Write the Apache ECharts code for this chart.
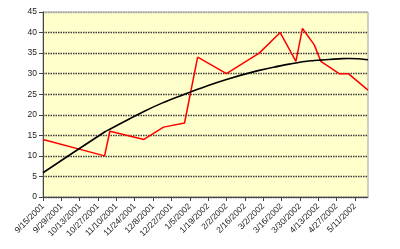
<!DOCTYPE html>
<html><head><meta charset="utf-8">
<script src="https://cdn.jsdelivr.net/npm/echarts@6/dist/echarts.min.js"></script>
<style>html,body{margin:0;padding:0;background:#fff}#c{width:400px;height:249px}</style>
</head><body><div id="c"></div>
<script>
// Data
const dates = ['9/15/2001','11/1/2001','11/5/2001','12/1/2001','12/16/2001','1/1/2002','1/11/2002','2/2/2002','2/27/2002','3/15/2002','3/27/2002','4/1/2002','4/10/2002','4/15/2002','4/29/2002','5/6/2002','5/21/2002'];
const values = [14,10,16,14,17,18,34,30,35,40,33,41,37,33,30,30,26];
const trend  = [5.9,15.8,16.5,20.8,23.0,25.0,26.2,28.6,30.8,31.9,32.6,32.9,33.2,33.3,33.6,33.7,33.4];
const yTicks = [0,5,10,15,20,25,30,35,40,45];
const axisStart = '9/15/2001';
const axisEnd = '5/21/2002';
const tickStepDays = 14;

function toDay(s){const p=s.split('/').map(Number);return Date.UTC(p[2],p[0]-1,p[1])/86400000;}
const d0 = toDay(axisStart);
const dEnd = toDay(axisEnd) - d0;
const xs = dates.map(d => toDay(d) - d0);
const tickVals = [];
for (let t = 0; t <= dEnd; t += tickStepDays) tickVals.push(t);
function fmt(v){const dt=new Date((d0+v)*86400000);return (dt.getUTCMonth()+1)+'/'+dt.getUTCDate()+'/'+dt.getUTCFullYear();}
const gridColors = yTicks.map((t,i)=> i===yTicks.length-1 ? '#a0a0a0' : '#3a3a3a');

const chart = echarts.init(document.getElementById('c'), null, {renderer:'canvas'});
chart.setOption({
  animation:false,
  backgroundColor:'#ffffff',
  grid:{left:43,top:12,right:32,bottom:52,show:true,backgroundColor:'#FFFFCC',borderColor:'#a0a0a0',borderWidth:1},
  xAxis:{type:'value',min:0,max:dEnd,
    axisLine:{show:true,onZero:false,lineStyle:{color:'#444',width:1}},
    axisTick:{show:true,customValues:tickVals,length:4,lineStyle:{color:'#444'}},
    axisLabel:{customValues:tickVals,rotate:45,fontSize:8.5,fontFamily:'Liberation Sans, Arial',color:'#222',margin:8,formatter:v=>fmt(v)},
    splitLine:{show:false}},
  yAxis:{type:'value',min:yTicks[0],max:yTicks[yTicks.length-1],interval:yTicks[1]-yTicks[0],
    axisLine:{show:true,lineStyle:{color:'#444',width:1}},
    axisTick:{show:true,length:4,lineStyle:{color:'#444'}},
    axisLabel:{fontSize:8.5,fontFamily:'Liberation Sans, Arial',color:'#222',margin:6},
    splitLine:{show:true,lineStyle:{color:gridColors,width:1.3,type:[1.5,1]}}},
  series:[
    {type:'line',data:xs.map((x,i)=>[x,values[i]]),symbol:'none',lineStyle:{color:'#FF0000',width:1.5},z:3},
    {type:'line',data:xs.map((x,i)=>[x,trend[i]]),symbol:'none',smooth:true,lineStyle:{color:'#000',width:1.6},z:4}
  ]
});
</script></body></html>
